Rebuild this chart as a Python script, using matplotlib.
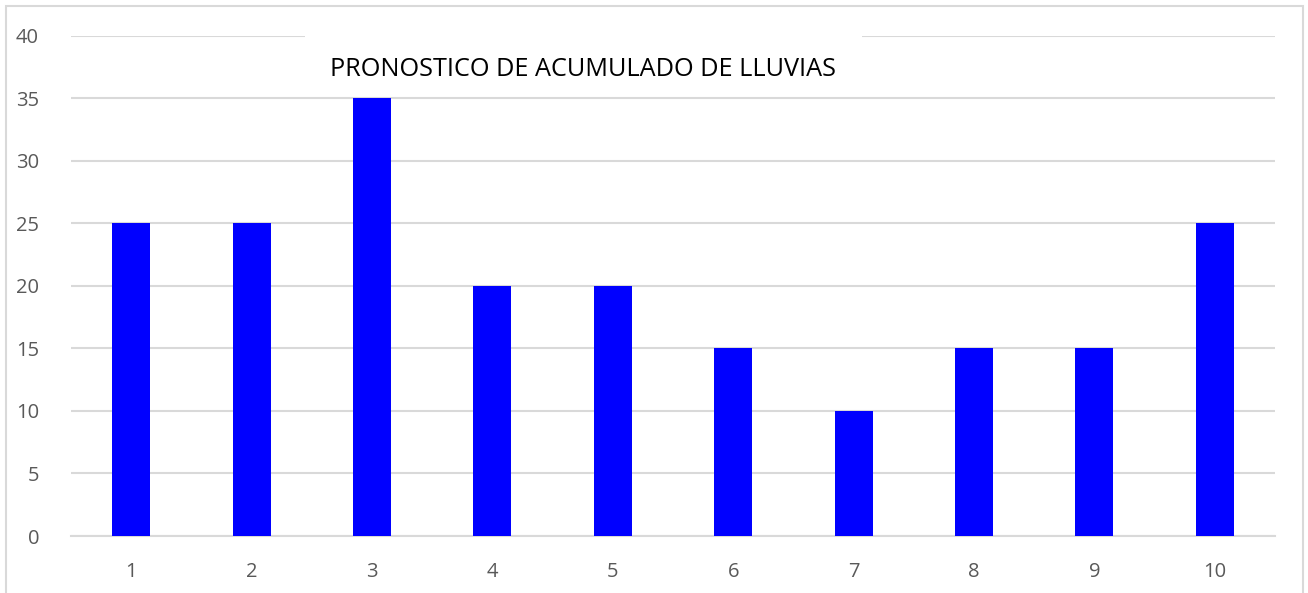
import numpy as np
from matplotlib import pyplot as plt
import matplotlib.patches as mpatches

# daily rainfall forecast (mm)
dias = [1, 2, 3, 4, 5, 6, 7, 8, 9, 10]
lluvia = [25, 25, 35, 20, 20, 15, 10, 15, 15, 25]
yticks = [0, 5, 10, 15, 20, 25, 30, 35, 40]

plt.rcParams['font.family'] = ['Open Sans', 'DejaVu Sans']

fig = plt.figure(figsize=(13.08, 5.93), dpi=100)
ax = fig.add_axes([0.0543, 0.0961, 0.9205, 0.8440])

ax.bar(dias, lluvia, width=0.315, color='#0000ff', zorder=3)

ax.set_xlim(0.5, 10.5)
ax.set_ylim(0, 40)
ax.set_yticks(yticks)
ax.set_xticks(dias)
ax.grid(axis='y', color='#d9d9d9', linewidth=1.5, zorder=0)
ax.set_axisbelow(True)
for s in ['top', 'right', 'left']:
    ax.spines[s].set_visible(False)
ax.spines['bottom'].set_color('#d9d9d9')
ax.spines['bottom'].set_linewidth(1.5)
ax.tick_params(length=0, labelsize=14.5, labelcolor='#595959')
ax.tick_params(axis='x', pad=19)
ax.tick_params(axis='y', pad=23)

# white title box laid over the top gridline, under the bars
ax.add_patch(mpatches.Rectangle((2.44, 35.2), 4.63, 5.1, facecolor='white',
                                edgecolor='none', zorder=2, clip_on=False))
ax.text(4.75, 37.3, 'PRONOSTICO DE ACUMULADO DE LLUVIAS', ha='center', va='center',
        fontsize=18.2, color='black', zorder=5)

# chart border
fig.patches.append(mpatches.Rectangle((6 / 1308, -0.1), 1297 / 1308, 0.1 + 587 / 593,
                                      transform=fig.transFigure, fill=False,
                                      edgecolor='#d9d9d9', linewidth=1.5))

plt.savefig('out.png')
